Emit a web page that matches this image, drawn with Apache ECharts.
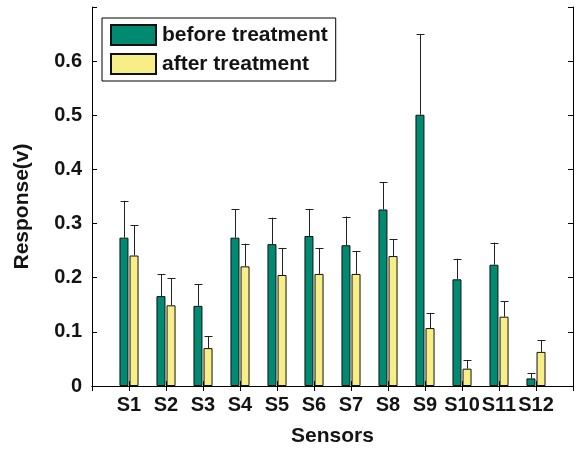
<!DOCTYPE html>
<html>
<head>
<meta charset="utf-8">
<script src="https://cdn.jsdelivr.net/npm/echarts@6/dist/echarts.min.js"></script>
<style>
  html, body { margin: 0; padding: 0; background: #fff; }
  #chart { width: 576px; height: 452px; }
</style>
</head>
<body>
<div id="chart"></div>
<script>
// Sensor responses (V) with standard deviations
const sensors = ['S1', 'S2', 'S3', 'S4', 'S5', 'S6', 'S7', 'S8', 'S9', 'S10', 'S11', 'S12'];
const before = [0.274, 0.166, 0.148, 0.274, 0.262, 0.277, 0.260, 0.326, 0.501, 0.197, 0.224, 0.014];
const beforeErr = [0.068, 0.041, 0.040, 0.052, 0.049, 0.050, 0.053, 0.050, 0.149, 0.038, 0.041, 0.010];
const after = [0.241, 0.149, 0.070, 0.221, 0.205, 0.207, 0.207, 0.240, 0.107, 0.032, 0.128, 0.063];
const afterErr = [0.056, 0.050, 0.022, 0.042, 0.050, 0.048, 0.042, 0.031, 0.028, 0.016, 0.029, 0.022];
const yTickLabels = ['0', '0.1', '0.2', '0.3', '0.4', '0.5', '0.6'];

const FONT = 'Liberation Sans, Arial, Helvetica, sans-serif';
const TEXT = '#141414';
const GREEN = '#008a71';
const YELLOW = '#f7ee86';
const BAR_W = 9;
const HALF_STEP = 5; // centre offset of each bar from its category position

// x positions 0..13, sensors at 1..12, empty padding at both ends
const cats = [''].concat(sensors, ['']);
const pad = arr => [null].concat(arr, [null]);

function errorSeries(name, values, errs, offset) {
  return {
    type: 'custom',
    name: name + ' err',
    xAxisIndex: 0,
    yAxisIndex: 0,
    z: 5,
    silent: true,
    data: values.map((v, i) => [i + 1, v, errs[i]]),
    encode: { x: 0, y: 1 },
    renderItem: function (params, api) {
      const base = api.coord([api.value(0), api.value(1)]);
      const top = api.coord([api.value(0), api.value(1) + api.value(2)]);
      const x = Math.round(base[0] + offset) + 0.5;
      const style = { stroke: '#222', lineWidth: 1, fill: null };
      return {
        type: 'group',
        children: [
          { type: 'line', shape: { x1: x, y1: base[1], x2: x, y2: top[1] }, style: style },
          { type: 'line', shape: { x1: x - 4, y1: Math.round(top[1]) + 0.5, x2: x + 4, y2: Math.round(top[1]) + 0.5 }, style: style }
        ]
      };
    }
  };
}

const chart = echarts.init(document.getElementById('chart'), null, { renderer: 'canvas' });

const tickStyle = { show: true, inside: true, length: 5, lineStyle: { color: '#000', width: 1 } };
const lineStyle = { show: true, lineStyle: { color: '#000', width: 1 } };

chart.setOption({
  animation: false,
  backgroundColor: '#fff',
  textStyle: { fontFamily: FONT },
  grid: { left: 92, top: 7, width: 486, height: 383, containLabel: false },
  legend: {
    orient: 'vertical',
    left: 102,
    top: 18,
    padding: [6, 8, 6, 8],
    itemWidth: 45,
    itemHeight: 20,
    itemGap: 7,
    icon: 'rect',
    borderColor: '#000',
    borderWidth: 1,
    backgroundColor: '#fff',
    data: ['before treatment', 'after treatment'],
    textStyle: { fontSize: 21, fontWeight: 'bold', color: TEXT, fontFamily: FONT, padding: [0, 0, 0, 1] }
  },
  xAxis: [
    {
      type: 'category',
      data: cats,
      boundaryGap: false,
      position: 'bottom',
      name: 'Sensors',
      nameLocation: 'middle',
      nameGap: 40,
      nameTextStyle: { fontSize: 21, fontWeight: 'bold', color: TEXT, fontFamily: FONT },
      axisLine: lineStyle,
      axisTick: Object.assign({ interval: 0 }, tickStyle),
      axisLabel: { interval: 0, margin: 9, fontSize: 20, fontWeight: 'bold', color: TEXT, fontFamily: FONT },
      splitLine: { show: false }
    },
    {
      type: 'category',
      data: cats,
      boundaryGap: false,
      position: 'top',
      axisLine: lineStyle,
      axisTick: Object.assign({ interval: 0 }, tickStyle),
      axisLabel: { show: false },
      splitLine: { show: false }
    }
  ],
  yAxis: [
    {
      type: 'value',
      min: 0,
      max: 0.7,
      interval: 0.1,
      position: 'left',
      name: 'Response(v)',
      nameLocation: 'middle',
      nameGap: 59,
      nameTextStyle: { fontSize: 21, fontWeight: 'bold', color: TEXT, fontFamily: FONT, padding: [0, 20, 0, 0] },
      axisLine: lineStyle,
      axisTick: tickStyle,
      axisLabel: {
        margin: 10,
        fontSize: 20,
        fontWeight: 'bold',
        color: TEXT,
        fontFamily: FONT,
        formatter: function (v) {
          const idx = Math.round(v * 10);
          return idx < yTickLabels.length ? yTickLabels[idx] : '';
        }
      },
      splitLine: { show: false }
    },
    {
      type: 'value',
      min: 0,
      max: 0.7,
      interval: 0.1,
      position: 'right',
      axisLine: lineStyle,
      axisTick: tickStyle,
      axisLabel: { show: false },
      splitLine: { show: false }
    }
  ],
  series: [
    {
      name: 'before treatment',
      type: 'bar',
      xAxisIndex: 0,
      yAxisIndex: 0,
      data: pad(before),
      barWidth: BAR_W,
      barGap: '12%',
      itemStyle: { color: GREEN, borderColor: '#111', borderWidth: 1 }
    },
    {
      name: 'after treatment',
      type: 'bar',
      xAxisIndex: 0,
      yAxisIndex: 0,
      data: pad(after),
      barWidth: BAR_W,
      barGap: '12%',
      itemStyle: { color: YELLOW, borderColor: '#111', borderWidth: 1 }
    },
    errorSeries('before treatment', before, beforeErr, -HALF_STEP),
    errorSeries('after treatment', after, afterErr, HALF_STEP)
  ]
});
</script>
</body>
</html>
